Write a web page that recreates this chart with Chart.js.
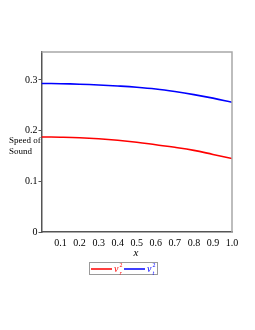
<!DOCTYPE html>
<html>
<head>
<meta charset="utf-8">
<script src="https://cdn.jsdelivr.net/npm/chart.js@4"></script>
<style>
  html, body { margin: 0; padding: 0; background: #fff; }
  #wrap { width: 255px; height: 330px; position: relative; }
</style>
</head>
<body>
<div id="wrap"><canvas id="myChart"></canvas></div>
<script>
// x values and the two squared sound speeds
const xValues = [0, 0.1, 0.2, 0.3, 0.4, 0.5, 0.6, 0.7, 0.8, 0.9, 1.0];
const vtSquared = [0.293, 0.2925, 0.2915, 0.290, 0.288, 0.2855, 0.282, 0.277, 0.271, 0.264, 0.256];
const vrSquared = [0.1875, 0.187, 0.186, 0.184, 0.181, 0.177, 0.172, 0.167, 0.161, 0.153, 0.145];
const yTicks = [0, 0.1, 0.2, 0.3];

const serif = "'Liberation Serif', 'DejaVu Serif', serif";

function toPoints(ys) {
    return xValues.map(function (x, i) { return { x: x, y: ys[i] }; });
}

// draws the frame's light top/right edges, the y title and the legend
const extras = {
    id: "extras",
    afterDraw: function (chart) {
        const ctx = chart.ctx;
        const a = chart.chartArea;
        ctx.save();
        ctx.strokeStyle = "#a8a8a8";
        ctx.lineWidth = 1.5;
        ctx.beginPath();
        ctx.moveTo(a.left, a.top);
        ctx.lineTo(a.right, a.top);
        ctx.lineTo(a.right, a.bottom);
        ctx.stroke();

        ctx.fillStyle = "#000";
        ctx.font = "9px " + serif;
        ctx.textAlign = "left";
        ctx.textBaseline = "alphabetic";
        ctx.fillText("Speed of", 9, 143);
        ctx.fillText("Sound", 9, 154);

        ctx.font = "italic 11px " + serif;
        ctx.textAlign = "center";
        ctx.fillText("x", 136, 256);

        // legend box
        ctx.strokeStyle = "#9a9a9a";
        ctx.lineWidth = 1;
        ctx.strokeRect(89.5, 262.5, 68, 12);
        const items = [
            { color: "red", sub: "r", x: 91 },
            { color: "blue", sub: "t", x: 124 }
        ];
        items.forEach(function (it) {
            ctx.strokeStyle = it.color;
            ctx.lineWidth = 1.5;
            ctx.beginPath();
            ctx.moveTo(it.x, 269);
            ctx.lineTo(it.x + 21, 269);
            ctx.stroke();
            ctx.fillStyle = it.color;
            ctx.textAlign = "left";
            ctx.font = "italic 10px " + serif;
            ctx.fillText("v", it.x + 23, 272);
            ctx.font = "6px " + serif;
            ctx.fillText("2", it.x + 28.5, 267);
            ctx.font = "italic 6px " + serif;
            ctx.fillText(it.sub, it.x + 28.5, 275);
        });
        ctx.restore();
    }
};

new Chart(document.getElementById("myChart"), {
    type: "line",
    data: {
        datasets: [{
            label: "vr2",
            data: toPoints(vrSquared),
            borderColor: "#ff0000",
            borderWidth: 1.6,
            pointRadius: 0,
            tension: 0.4
        }, {
            label: "vt2",
            data: toPoints(vtSquared),
            borderColor: "#0000ff",
            borderWidth: 1.6,
            pointRadius: 0,
            tension: 0.4
        }]
    },
    options: {
        responsive: true,
        maintainAspectRatio: false,
        animation: false,
        layout: { padding: { left: 24, right: 23, top: 52, bottom: 76 } },
        plugins: { legend: { display: false }, tooltip: { enabled: false } },
        scales: {
            x: {
                type: "linear",
                min: 0,
                max: 1,
                grid: { drawOnChartArea: false, drawTicks: false },
                border: { color: "#555", width: 1.5 },
                ticks: {
                    stepSize: 0.1,
                    padding: 5,
                    color: "#000",
                    font: { family: serif, size: 10 },
                    callback: function (v) { return v === 0 ? "" : v.toFixed(1); }
                }
            },
            y: {
                min: 0,
                max: 0.355,
                afterBuildTicks: function (axis) {
                    axis.ticks = yTicks.map(function (v) { return { value: v }; });
                },
                grid: { drawOnChartArea: false, tickLength: 3, color: "#555" },
                border: { color: "#555", width: 1.5 },
                ticks: {
                    padding: 1,
                    color: "#000",
                    font: { family: serif, size: 10 },
                    callback: function (v) { return v === 0 ? "0" : v.toFixed(1); }
                }
            }
        }
    },
    plugins: [extras]
});
</script>
</body>
</html>
